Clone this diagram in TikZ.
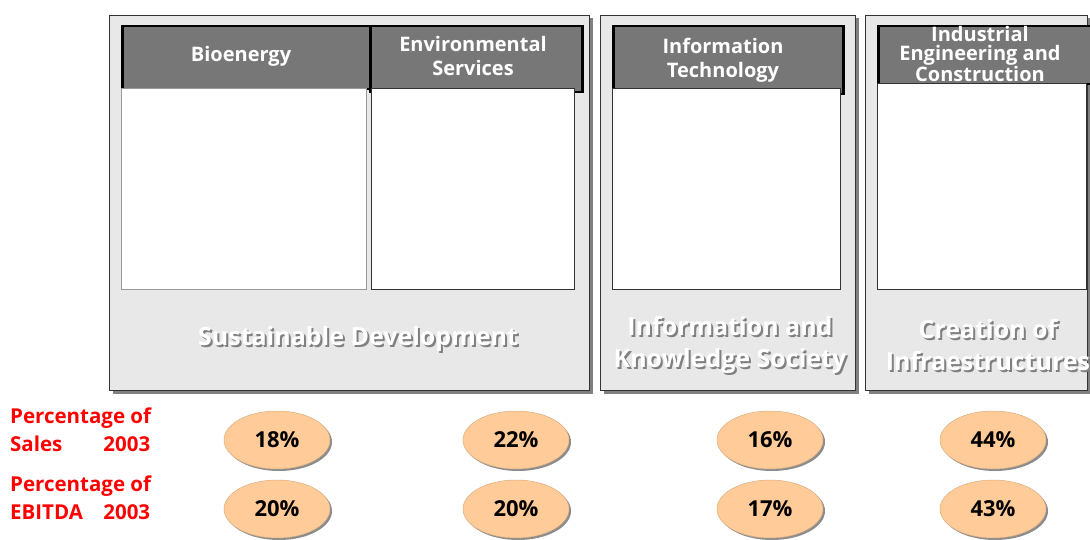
\documentclass[tikz,border=0pt]{standalone}
\usepackage{fontspec}
\setmainfont{Open Sans}
\usetikzlibrary{shadows,shapes.geometric}
\definecolor{panelgray}{HTML}{E8E8E8}
\definecolor{headgray}{HTML}{777777}
\definecolor{peach}{HTML}{FFCC99}
\definecolor{labelred}{HTML}{FF0000}
\begin{document}
\begin{tikzpicture}[x=1pt,y=-1pt,
  panel/.style={draw=black!80, fill=panelgray, line width=1pt, anchor=north west, inner sep=0pt,
    drop shadow={shadow xshift=3pt, shadow yshift=-3pt, fill=black!50, opacity=1}},
  header/.style={draw=black, fill=headgray, line width=2.5pt, anchor=north west, inner sep=0pt},
  whitebox/.style={draw=#1, fill=white, line width=1pt, anchor=north west, inner sep=0pt},
  headtext/.style={text=white, font=\bfseries\fontsize{20}{24}\selectfont, align=center, inner sep=0pt},
  bigtext/.style={text=white, font=\bfseries\fontsize{25}{32}\selectfont, align=center, inner sep=0pt},
  bigshadow/.style={text=black!50, font=\bfseries\fontsize{25}{32}\selectfont, align=center, inner sep=0pt},
  pct/.style={ellipse, fill=peach, draw=peach!85!black, line width=0.5pt, minimum width=106pt, minimum height=58pt,
    inner sep=0pt, font=\bfseries\fontsize{22}{24}\selectfont,
    drop shadow={shadow xshift=2pt, shadow yshift=-2pt, fill=black!45, opacity=1}},
  redlabel/.style={text=labelred, font=\bfseries\fontsize{20.5}{28}\selectfont, align=left, inner sep=0pt, anchor=west}
]
\useasboundingbox (0,0) rectangle (1090,540);

% panels
\node[panel, minimum width=480pt, minimum height=375pt] (p1) at (109,15) {};
\node[panel, minimum width=255pt, minimum height=375pt] (p2) at (600,15) {};
\node[panel, minimum width=222pt, minimum height=375pt] (p3) at (865,15) {};

% headers
\node[header, minimum width=248pt, minimum height=63pt] (h1) at (121,25) {};
\node[header, minimum width=212pt, minimum height=66pt] (h2) at (369,25) {};
\node[header, minimum width=230pt, minimum height=68pt] (h3) at (612,25) {};
\node[header, minimum width=216pt, minimum height=58pt] (h4) at (877,25) {};

% white boxes
\node[whitebox=black!40, minimum width=245pt, minimum height=201pt] (w1) at (121,88) {};
\node[whitebox=black!80, minimum width=203pt, minimum height=201pt] (w2) at (371,88) {};
\node[whitebox=black!80, minimum width=228pt, minimum height=201pt] (w3) at (612,88) {};
\node[whitebox=black!80, minimum width=209pt, minimum height=206pt] (w4) at (877,83) {};

% header texts
\node[headtext] (t1) at (241,56) {Bioenergy};
\node[headtext] (t2) at (473,56) {Environmental\\Services};
\node[headtext] (t3) at (723,60) {Information\\Technology};
\node[headtext, font=\bfseries\fontsize{20}{18.5}\selectfont] (t4) at (980,54) {Industrial\\Engineering and\\Construction};

% big shadowed texts
\node[bigshadow] (s1s) at (360,341) {Sustainable Development};
\node[bigtext] (s1) at (358,339) {Sustainable Development};
\node[bigshadow] (s2s) at (732,347) {Information and\\Knowledge Society};
\node[bigtext] (s2) at (730,345) {Information and\\Knowledge Society};
\node[bigshadow] (s3s) at (990,347) {Creation of\\Infraestructures};
\node[bigtext] (s3) at (988,345) {Creation of\\Infraestructures};

% left labels
\node[redlabel] (l1) at (10,430) {Percentage of\\\makebox[140pt][s]{Sales\hfill 2003}};
\node[redlabel] (l2) at (10,498) {Percentage of\\\makebox[140pt][s]{EBITDA\hfill 2003}};

% percentages
\node[pct] (e11) at (277,440) {18\%};
\node[pct] (e12) at (516,440) {22\%};
\node[pct] (e13) at (770,440) {16\%};
\node[pct] (e14) at (993,440) {44\%};
\node[pct] (e21) at (277,509) {20\%};
\node[pct] (e22) at (516,509) {20\%};
\node[pct] (e23) at (770,509) {17\%};
\node[pct] (e24) at (993,509) {43\%};
\end{tikzpicture}
\end{document}
